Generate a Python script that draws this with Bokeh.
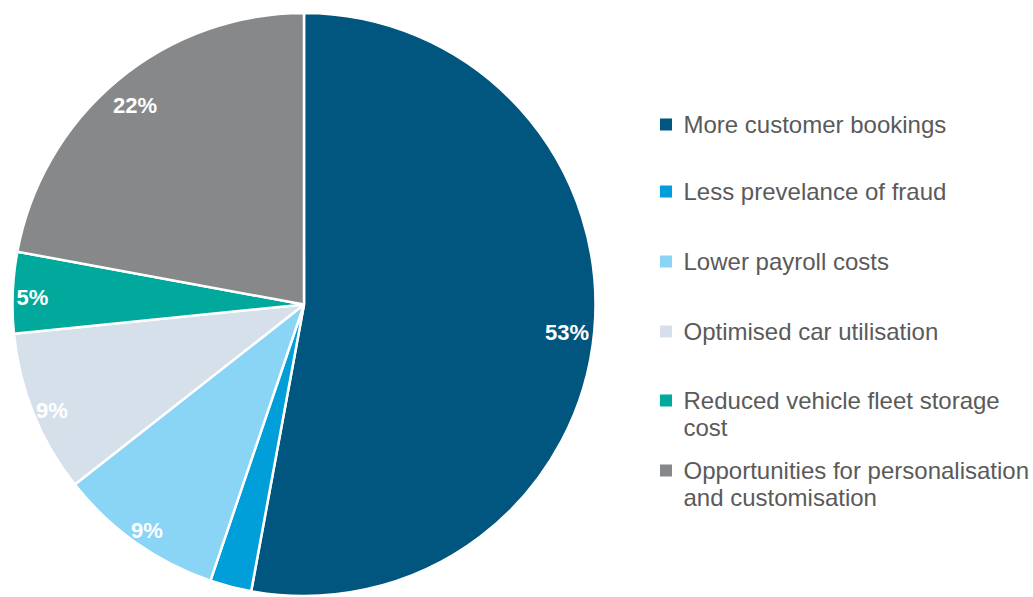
import math
from bokeh.plotting import figure
from bokeh.models import Range1d, ColumnDataSource
from bokeh.core.properties import value
from bokeh.embed import file_html
from bokeh.resources import INLINE

# ---- data ----
categories = [
    "More customer bookings",
    "Less prevelance of fraud",
    "Lower payroll costs",
    "Optimised car utilisation",
    "Reduced vehicle fleet storage\ncost",
    "Opportunities for personalisation\nand customisation",
]
shares = [52.9, 2.3, 9.2, 9.0, 4.5, 22.1]
show_label = [True, False, True, True, True, True]
colors = ["#00567E", "#009FDA", "#8AD4F6", "#D5E0EB", "#00A99C", "#87888A"]

# ---- layout ----
W, H = 1033, 597
def X(sx):
    return sx
def Y(sy):
    return H - sy

cx, cy, R = X(303.5), Y(304), 291.5
lab_font_px = 22
leg_font_px = 24

p = figure(width=W, height=H, output_backend="svg", toolbar_location=None,
           x_range=Range1d(0, W), y_range=Range1d(0, H),
           x_axis_location=None, y_axis_location=None,
           min_border=0, outline_line_color=None, background_fill_color="white")
p.grid.visible = False

total = float(sum(shares))
starts, ends, mids = [], [], []
cum = 0.0
for s in shares:
    a0 = math.pi / 2 - 2 * math.pi * cum / total
    cum += s
    a1 = math.pi / 2 - 2 * math.pi * cum / total
    starts.append(a0)
    ends.append(a1)
    mids.append((a0 + a1) / 2)

src = ColumnDataSource(dict(x=[cx] * len(shares), y=[cy] * len(shares),
                            start=starts, end=ends, color=colors))
p.wedge(x="x", y="y", radius=R, start_angle="start", end_angle="end",
        direction="clock", fill_color="color", line_color="white",
        line_width=2.5, source=src)

# data labels (inside end)
lx, ly, lt = [], [], []
for s, m, show in zip(shares, mids, show_label):
    if not show:
        continue
    txt = f"{int(s / total * 100 + 0.5)}%"
    w = (0.556 * (len(txt) - 1) + 0.889) * lab_font_px
    rr = R - 0.62 * w
    lx.append(cx + rr * math.cos(m))
    ly.append(cy + rr * math.sin(m))
    lt.append(txt)
p.text(x=lx, y=ly, text=lt, text_color="white", text_font=value("Liberation Sans"),
       text_font_style="bold", text_font_size=f"{lab_font_px}px",
       text_align="center", text_baseline="middle", y_offset=4)

# legend
leg_rows_sy = [124, 191, 261, 331, 400, 470]
sq_x = X(665.5)
tx = X(683)
line_step = 27
p.rect(x=[sq_x] * len(categories), y=[Y(v) for v in leg_rows_sy],
       width=12, height=12, fill_color=colors, line_color=None)
txs, tys, tts = [], [], []
for cat, sy in zip(categories, leg_rows_sy):
    for i, line in enumerate(cat.split("\n")):
        txs.append(tx)
        tys.append(Y(sy + i * line_step))
        tts.append(line)
p.text(x=txs, y=tys, text=tts, text_color="#5a5a5a", text_font=value("Liberation Sans"),
       text_font_size=f"{leg_font_px}px", text_align="left", text_baseline="middle")

open("out.html", "w").write(file_html(p, INLINE))
